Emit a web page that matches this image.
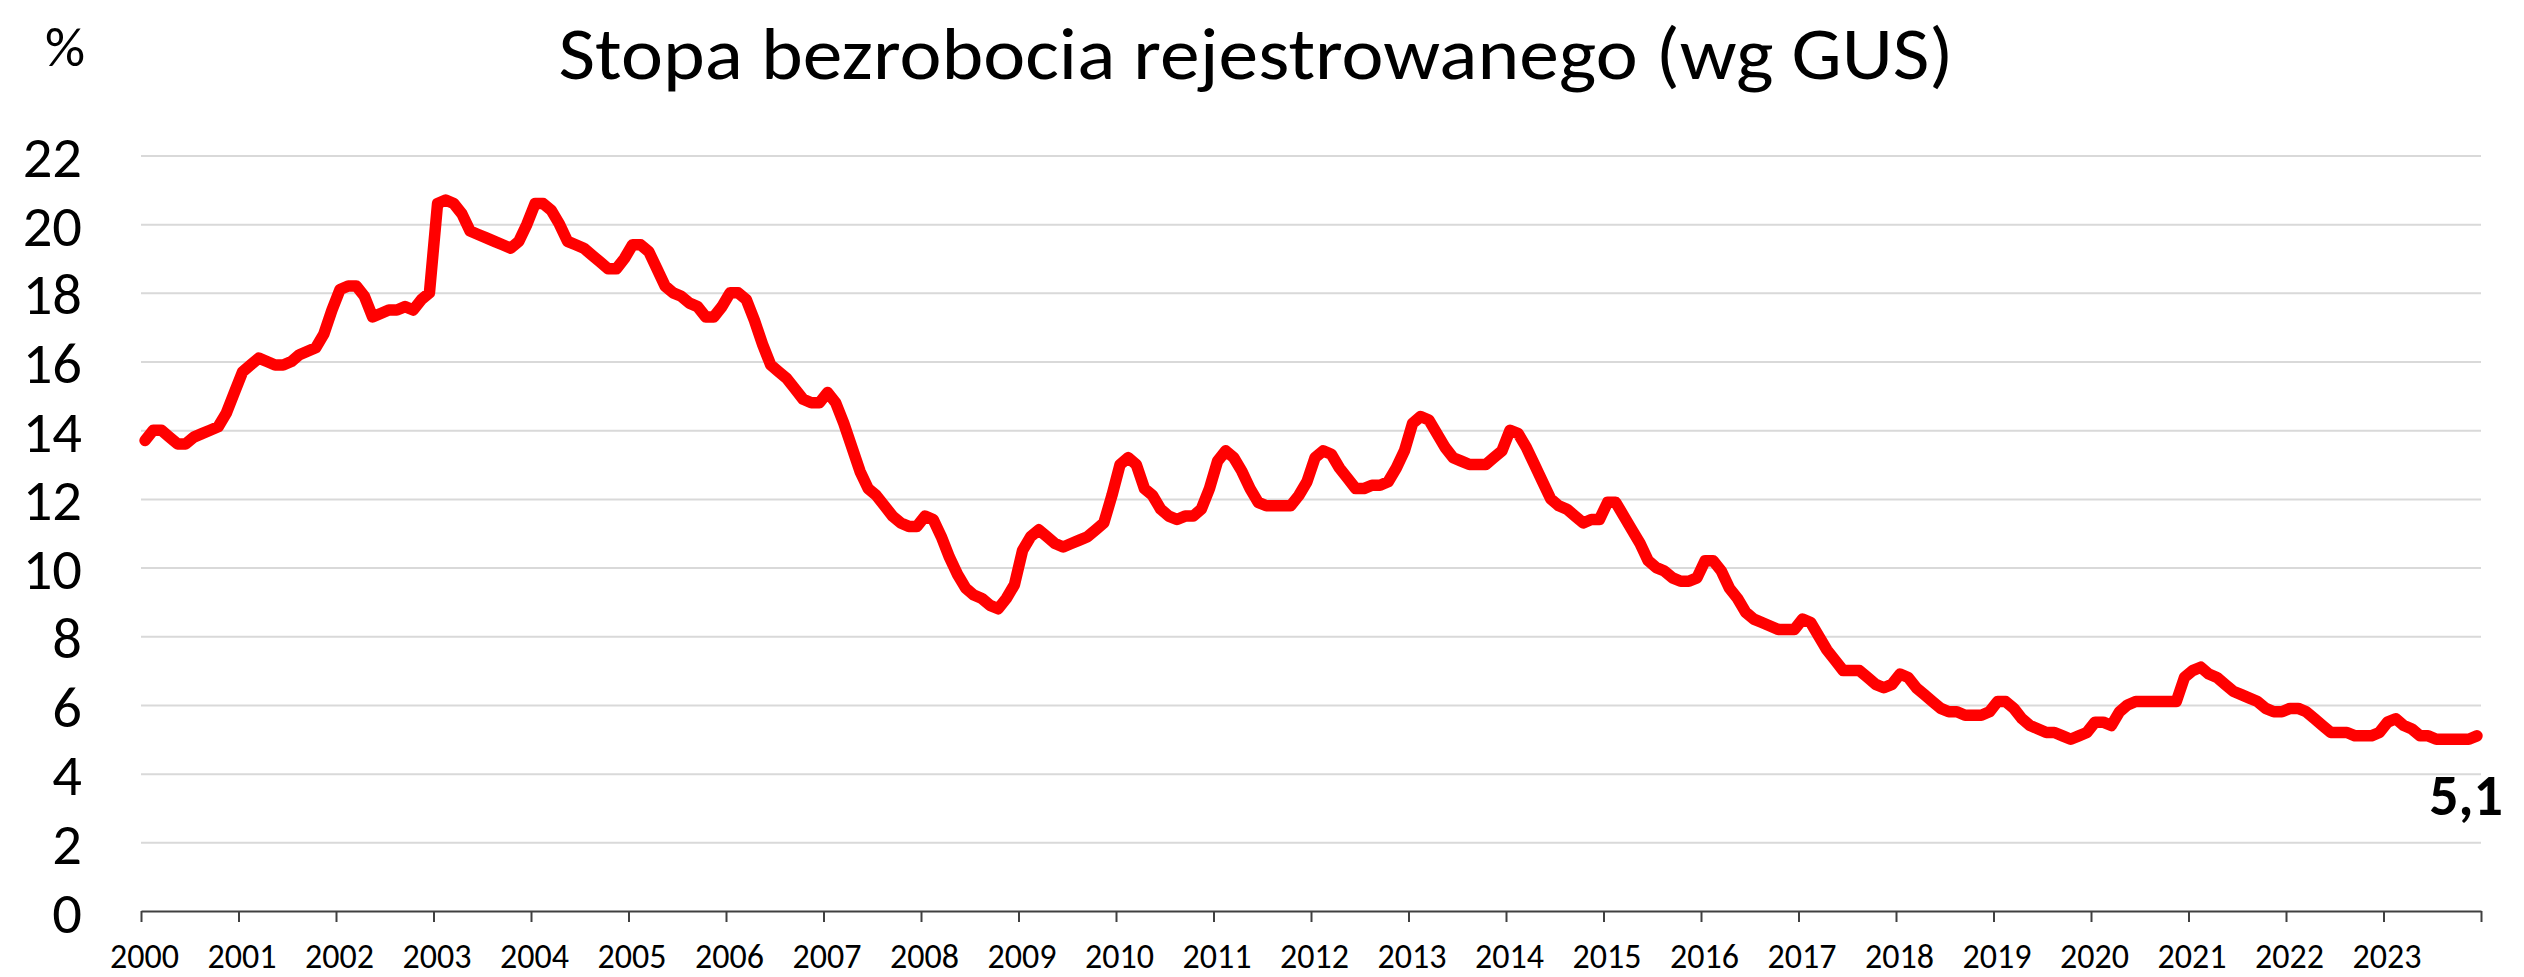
<!DOCTYPE html>
<html>
<head>
<meta charset="utf-8">
<script src="https://cdn.jsdelivr.net/npm/d3@7"></script>
<style>
  body { margin: 0; background: #fff; }
  svg { display: block; font-family: Calibri, Carlito, Lato, sans-serif; }
</style>
</head>
<body>
<div id="chart"></div>
<script>
// Stopa bezrobocia rejestrowanego, dane miesieczne I 2000 - XII 2023 (%)
const rates = [
  13.7, 14.0, 14.0, 13.8, 13.6, 13.6, 13.8, 13.9, 14.0, 14.1, 14.5, 15.1, // 2000
  15.7, 15.9, 16.1, 16.0, 15.9, 15.9, 16.0, 16.2, 16.3, 16.4, 16.8, 17.5, // 2001
  18.1, 18.2, 18.2, 17.9, 17.3, 17.4, 17.5, 17.5, 17.6, 17.5, 17.8, 18.0, // 2002
  20.6, 20.7, 20.6, 20.3, 19.8, 19.7, 19.6, 19.5, 19.4, 19.3, 19.5, 20.0, // 2003
  20.6, 20.6, 20.4, 20.0, 19.5, 19.4, 19.3, 19.1, 18.9, 18.7, 18.7, 19.0, // 2004
  19.4, 19.4, 19.2, 18.7, 18.2, 18.0, 17.9, 17.7, 17.6, 17.3, 17.3, 17.6, // 2005
  18.0, 18.0, 17.8, 17.2, 16.5, 15.9, 15.7, 15.5, 15.2, 14.9, 14.8, 14.8, // 2006
  15.1, 14.8, 14.2, 13.5, 12.8, 12.3, 12.1, 11.8, 11.5, 11.3, 11.2, 11.2, // 2007
  11.5, 11.4, 10.9, 10.3, 9.8, 9.4, 9.2, 9.1, 8.9, 8.8, 9.1, 9.5,         // 2008
  10.5, 10.9, 11.1, 10.9, 10.7, 10.6, 10.7, 10.8, 10.9, 11.1, 11.3, 12.1, // 2009
  13.0, 13.2, 13.0, 12.3, 12.1, 11.7, 11.5, 11.4, 11.5, 11.5, 11.7, 12.3, // 2010
  13.1, 13.4, 13.2, 12.8, 12.3, 11.9, 11.8, 11.8, 11.8, 11.8, 12.1, 12.5, // 2011
  13.2, 13.4, 13.3, 12.9, 12.6, 12.3, 12.3, 12.4, 12.4, 12.5, 12.9, 13.4, // 2012
  14.2, 14.4, 14.3, 13.9, 13.5, 13.2, 13.1, 13.0, 13.0, 13.0, 13.2, 13.4, // 2013
  14.0, 13.9, 13.5, 13.0, 12.5, 12.0, 11.8, 11.7, 11.5, 11.3, 11.4, 11.4, // 2014
  11.9, 11.9, 11.5, 11.1, 10.7, 10.2, 10.0, 9.9, 9.7, 9.6, 9.6, 9.7,      // 2015
  10.2, 10.2, 9.9, 9.4, 9.1, 8.7, 8.5, 8.4, 8.3, 8.2, 8.2, 8.2,           // 2016
  8.5, 8.4, 8.0, 7.6, 7.3, 7.0, 7.0, 7.0, 6.8, 6.6, 6.5, 6.6,             // 2017
  6.9, 6.8, 6.5, 6.3, 6.1, 5.9, 5.8, 5.8, 5.7, 5.7, 5.7, 5.8,             // 2018
  6.1, 6.1, 5.9, 5.6, 5.4, 5.3, 5.2, 5.2, 5.1, 5.0, 5.1, 5.2,             // 2019
  5.5, 5.5, 5.4, 5.8, 6.0, 6.1, 6.1, 6.1, 6.1, 6.1, 6.1, 6.8,             // 2020
  7.0, 7.1, 6.9, 6.8, 6.6, 6.4, 6.3, 6.2, 6.1, 5.9, 5.8, 5.8,             // 2021
  5.9, 5.9, 5.8, 5.6, 5.4, 5.2, 5.2, 5.2, 5.1, 5.1, 5.1, 5.2,             // 2022
  5.5, 5.6, 5.4, 5.3, 5.1, 5.1, 5.0, 5.0, 5.0, 5.0, 5.0, 5.1              // 2023
];

const yearLabels = [
  "2000", "2001", "2002", "2003", "2004", "2005", "2006", "2007",
  "2008", "2009", "2010", "2011", "2012", "2013", "2014", "2015",
  "2016", "2017", "2018", "2019", "2020", "2021", "2022", "2023"
];

const yTicks = [0, 2, 4, 6, 8, 10, 12, 14, 16, 18, 20, 22];

const chartTitle = "Stopa bezrobocia rejestrowanego (wg GUS)";
const unitLabel = "%";
const lastLabel = "5,1";

class UnemploymentChart {
  constructor(_config, _data) {
    this.config = {
      parentElement: _config.parentElement,
      containerWidth: _config.containerWidth || 2524,
      containerHeight: _config.containerHeight || 977,
      margin: _config.margin || { top: 155.5, right: 43, bottom: 66, left: 141 },
      fontFamily: "Calibri, Carlito, Lato, sans-serif",
      lineColor: "#ff0000",
      gridColor: "#d9d9d9",
      axisColor: "#404040",
    };
    this.data = _data;

    this.initVis();
  }

  initVis() {
    let vis = this;

    vis.width =
      vis.config.containerWidth -
      vis.config.margin.left -
      vis.config.margin.right;
    vis.height =
      vis.config.containerHeight -
      vis.config.margin.top -
      vis.config.margin.bottom;

    vis.svg = d3
      .select(vis.config.parentElement)
      .append("svg")
      .attr("width", vis.config.containerWidth)
      .attr("height", vis.config.containerHeight);

    vis.svg
      .append("rect")
      .attr("width", vis.config.containerWidth)
      .attr("height", vis.config.containerHeight)
      .attr("fill", "#fff");

    vis.chart = vis.svg
      .append("g")
      .attr(
        "transform",
        `translate(${vis.config.margin.left},${vis.config.margin.top})`
      );

    // months on x: each year takes 12 slots, point sits in middle of its slot
    vis.xScale = d3
      .scaleLinear()
      .domain([0, yearLabels.length * 12])
      .range([0, vis.width]);

    vis.yScale = d3
      .scaleLinear()
      .domain([0, 22])
      .range([vis.height, 0]);

    vis.xAxis = d3
      .axisBottom(vis.xScale)
      .tickValues(d3.range(0, yearLabels.length * 12 + 1, 12))
      .tickSizeInner(11)
      .tickSizeOuter(0)
      .tickPadding(22)
      .tickFormat((d, i) => yearLabels[i] || "");

    vis.yAxis = d3
      .axisLeft(vis.yScale)
      .tickValues(yTicks)
      .tickSize(-vis.width)
      .tickPadding(59)
      .tickFormat((d) => d);

    vis.yAxisG = vis.chart.append("g").attr("class", "axis y-axis");
    vis.xAxisG = vis.chart
      .append("g")
      .attr("class", "axis x-axis")
      .attr("transform", `translate(0,${vis.height})`);

    vis.svg
      .append("text")
      .attr("class", "chart-title")
      .attr("x", 1256)
      .attr("y", 79)
      .attr("text-anchor", "middle")
      .attr("font-size", 74)
      .attr("textLength", 1395)
      .attr("lengthAdjust", "spacingAndGlyphs")
      .attr("fill", "#000")
      .text(chartTitle);

    vis.svg
      .append("text")
      .attr("class", "unit-label")
      .attr("x", 65)
      .attr("y", 66)
      .attr("text-anchor", "middle")
      .attr("font-size", 56)
      .attr("fill", "#000")
      .text(unitLabel);

    this.updateVis();
  }

  updateVis() {
    const vis = this;

    vis.yAxisG.call(vis.yAxis);
    // d3 axis puts its own sans-serif on the group
    vis.yAxisG.attr("font-family", vis.config.fontFamily);
    vis.yAxisG.select(".domain").remove();
    vis.yAxisG
      .selectAll(".tick line")
      .attr("stroke", (d) => (d === 0 ? "none" : vis.config.gridColor))
      .attr("stroke-width", 2);
    vis.yAxisG
      .selectAll(".tick text")
      .attr("font-size", 58.5)
      .attr("dy", "0.36em")
      .attr("fill", "#000");

    vis.xAxisG.call(vis.xAxis);
    vis.xAxisG.attr("font-family", vis.config.fontFamily);
    vis.xAxisG
      .select(".domain")
      .attr("stroke", vis.config.axisColor)
      .attr("stroke-width", 2);
    vis.xAxisG
      .selectAll(".tick line")
      .attr("stroke", vis.config.axisColor)
      .attr("stroke-width", 2);
    vis.xAxisG
      .selectAll(".tick text")
      .attr("font-size", 34)
      .attr("dx", 3)
      .attr("fill", "#000");

    const line = d3
      .line()
      .x((d, i) => vis.xScale(i + 0.5))
      .y((d) => vis.yScale(d));

    vis.chart
      .append("path")
      .datum(vis.data)
      .attr("class", "rate-line")
      .attr("fill", "none")
      .attr("stroke", vis.config.lineColor)
      .attr("stroke-width", 11.5)
      .attr("stroke-linejoin", "round")
      .attr("stroke-linecap", "round")
      .attr("d", line);

    // label for the latest value
    const lastIndex = vis.data.length - 1;
    vis.chart
      .append("text")
      .attr("class", "last-label")
      .attr("x", vis.xScale(lastIndex + 0.5) + 26)
      .attr("y", vis.yScale(vis.data[lastIndex]) + 79)
      .attr("text-anchor", "end")
      .attr("font-size", 58)
      .attr("font-weight", "bold")
      .attr("fill", "#000")
      .text(lastLabel);
  }
}

const chart = new UnemploymentChart(
  { parentElement: "#chart", containerWidth: 2524, containerHeight: 977 },
  rates
);
</script>
</body>
</html>
